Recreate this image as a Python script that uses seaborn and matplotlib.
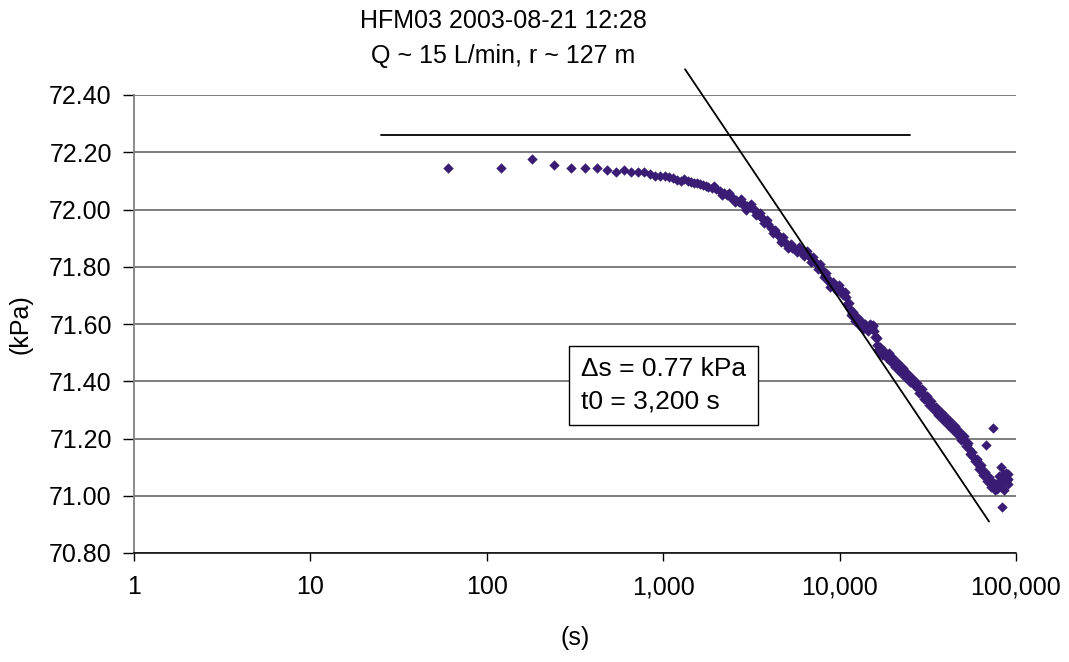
import numpy as np
import pandas as pd
import matplotlib
matplotlib.use("Agg")
import matplotlib.pyplot as plt
from matplotlib.ticker import FixedLocator, FuncFormatter, NullLocator
import seaborn as sns

# ---- data (time in s, pressure in kPa) ----
time_s = [
    60, 120, 180, 240, 300, 360, 420, 480, 540, 600, 660, 720, 780, 840, 900, 960,
    1020, 1080, 1140, 1200, 1260, 1320, 1380, 1440, 1500, 1560, 1620, 1680, 1740, 1800,
    1900, 2000, 2100, 2200, 2300, 2400, 2500, 2600, 2700, 2800, 2900, 3000, 3100, 3200,
    3300, 3400, 3500, 3600, 3700, 3800, 3950, 4100, 4250, 4400, 4550, 4700, 4850, 5000,
    5200, 5400, 5600, 5800, 6000, 6200, 6400, 6600, 6800, 7000, 7200, 7400, 7600, 7800,
    8000, 8250, 8500, 8750, 9000, 9250, 9500, 9750, 10000, 10300, 10600, 10900, 11200,
    11500, 11800, 12100, 12400, 12700, 13000, 13400, 13800, 14200, 14600, 15000, 15400,
    15700, 16000, 16400, 16800, 17200, 17700, 18200, 18700, 19200, 19800, 20400, 21000,
    21700, 22400, 23100, 23800, 24600, 25400, 26200, 27000, 27900, 28800, 29700, 30600,
    31600, 32600, 33600, 34700, 35800, 36900, 38000, 39200, 40400, 41600, 42900, 44200,
    45500, 46900, 48300, 49700, 51200, 52700, 54200, 55800, 57400, 59000, 60700, 62400,
    64100, 65900, 67700, 69600, 71500, 73500, 75500, 77500, 79500, 81500, 83500, 85500,
    87500, 89000,
    72000, 74000, 76000, 78000, 80000, 82000, 84000, 86000, 88000, 89500, 90000, 90500,
    67300, 74300, 81900, 83000,
]
pressure_kpa = [
    72.145, 72.145, 72.175, 72.154, 72.145, 72.145, 72.145, 72.138, 72.131, 72.138,
    72.131, 72.131, 72.131, 72.124, 72.117, 72.117, 72.116, 72.114, 72.109, 72.104,
    72.100, 72.105, 72.099, 72.095, 72.094, 72.092, 72.090, 72.087, 72.083, 72.080,
    72.074, 72.071, 72.066, 72.057, 72.049, 72.045, 72.039, 72.034, 72.027, 72.020,
    72.015, 72.011, 72.008, 72.006, 71.999, 71.989, 71.980, 71.975, 71.968, 71.961,
    71.948, 71.936, 71.924, 71.913, 71.906, 71.894, 71.889, 71.880, 71.871, 71.864,
    71.861, 71.859, 71.856, 71.850, 71.845, 71.840, 71.833, 71.826, 71.819, 71.808,
    71.801, 71.793, 71.784, 71.772, 71.759, 71.747, 71.737, 71.731, 71.728, 71.726,
    71.723, 71.717, 71.710, 71.696, 71.672, 71.651, 71.637, 71.626, 71.617, 71.612,
    71.605, 71.596, 71.593, 71.587, 71.586, 71.591, 71.596, 71.577, 71.556, 71.528,
    71.511, 71.502, 71.497, 71.493, 71.490, 71.483, 71.474, 71.465, 71.456, 71.448,
    71.439, 71.430, 71.423, 71.414, 71.406, 71.397, 71.388, 71.376, 71.365, 71.355,
    71.343, 71.334, 71.323, 71.313, 71.304, 71.295, 71.287, 71.278, 71.271, 71.262,
    71.255, 71.246, 71.238, 71.229, 71.220, 71.210, 71.201, 71.192, 71.178, 71.164,
    71.150, 71.136, 71.124, 71.111, 71.101, 71.089, 71.076, 71.068, 71.059, 71.052,
    71.047, 71.043, 71.041, 71.043, 71.047, 71.052, 71.057, 71.062, 71.055,
    71.030, 71.030, 71.020, 71.025, 71.070, 71.030, 71.075, 71.020, 71.080, 71.075,
    71.040, 71.060,
    71.178, 71.235, 71.099, 70.961,
]

# scatter of readings along the upper / lower edges of the dense band
band_time_s = [
    1950, 2150, 2350, 2550, 2750, 2950, 3150, 3350, 3550, 3750, 3900, 4175, 4325, 4625,
    4775, 5100, 5300, 5700, 5900, 6300, 6500, 6900, 7100, 7500, 7700, 8125, 8375, 8875,
    9125, 9625, 9875, 10450, 10750, 11050, 11350, 11650, 11950, 12250, 12550, 12850,
    13200, 13600, 14000, 14400, 14800, 15200, 15550, 15850, 16200, 16600, 17000, 17450,
    17950, 18450, 18950, 19500, 20100, 20700, 21350, 22050, 22750, 23450, 24200, 25000,
    25800, 26600, 27450, 28350, 29250, 30150, 31100, 32100, 33100, 34150, 35250, 36350,
    37450, 38600, 39800, 41000, 42250, 43550, 44850, 46200, 47600, 49000, 50450, 51950,
    53450, 55000, 56600, 58200, 59850, 61550, 63250, 65000, 66800, 68650, 70550,
]
band_kpa = [
    72.082, 72.050, 72.058, 72.025, 72.035, 72.000, 72.018, 71.982, 71.989, 71.952,
    71.963, 71.918, 71.930, 71.888, 71.903, 71.864, 71.879, 71.850, 71.869, 71.836,
    71.854, 71.818, 71.835, 71.793, 71.809, 71.765, 71.778, 71.730, 71.746, 71.716,
    71.736, 71.702, 71.713, 71.670, 71.672, 71.632, 71.641, 71.610, 71.625, 71.597,
    71.612, 71.583, 71.600, 71.576, 71.601, 71.585, 71.592, 71.555, 71.550, 71.510,
    71.518, 71.490, 71.505, 71.481, 71.497, 71.467, 71.481, 71.450, 71.464, 71.433,
    71.446, 71.416, 71.430, 71.399, 71.413, 71.382, 71.394, 71.359, 71.372, 71.338,
    71.350, 71.318, 71.330, 71.298, 71.311, 71.281, 71.294, 71.264, 71.278, 71.248,
    71.262, 71.232, 71.245, 71.214, 71.227, 71.195, 71.208, 71.174, 71.183, 71.146,
    71.154, 71.120, 71.128, 71.095, 71.106, 71.072, 71.082, 71.052, 71.065,
]

# straight-line fits drawn on the chart
flat_line_t = [25, 25000]
flat_line_kpa = [72.26, 72.26]
slope_line_t = [1330, 70300]
slope_line_kpa = [72.49, 70.91]

x_ticks = [1, 10, 100, 1000, 10000, 100000]
y_ticks = [70.80, 71.00, 71.20, 71.40, 71.60, 71.80, 72.00, 72.20, 72.40]

title_lines = ["HFM03 2003-08-21 12:28", "Q ~ 15 L/min, r ~ 127 m"]
box_text = "\u0394s = 0.77 kPa\nt0 = 3,200 s"

# ---- plotting ----
sns.set_theme(style="white")
plt.rcParams["font.family"] = ["Liberation Sans", "DejaVu Sans"]
plt.rcParams["text.color"] = "black"
plt.rcParams["axes.labelcolor"] = "black"
plt.rcParams["xtick.color"] = "black"
plt.rcParams["ytick.color"] = "black"

fig = plt.figure(figsize=(10.69, 6.62), dpi=100)
ax = fig.add_axes([134 / 1069, 1 - 553 / 662, (1016 - 134) / 1069, (553 - 95) / 662])

df = pd.DataFrame({"t": time_s + band_time_s, "p": pressure_kpa + band_kpa})
sns.scatterplot(data=df, x="t", y="p", marker="D", s=28, color="#3a1c74",
                linewidth=0, ax=ax, zorder=3)

ax.plot(flat_line_t, flat_line_kpa, color="black", lw=1.3, zorder=4)
ax.plot(slope_line_t, slope_line_kpa, color="black", lw=1.3, zorder=4, clip_on=False)

ax.set_xscale("log")
ax.set_xlim(1, 100000)
ax.set_ylim(70.80, 72.40)
ax.xaxis.set_major_locator(FixedLocator(x_ticks))
ax.xaxis.set_minor_locator(NullLocator())
ax.xaxis.set_major_formatter(FuncFormatter(lambda v, p: f"{v:,.0f}"))
ax.yaxis.set_major_locator(FixedLocator(y_ticks))
ax.yaxis.set_major_formatter(FuncFormatter(lambda v, p: f"{v:.2f}"))

for y in y_ticks:
    ax.axhline(y, color="#5a5a5a", lw=1.1, zorder=1)

for s in ["top", "right"]:
    ax.spines[s].set_visible(False)
ax.spines["left"].set_color("#808080")
ax.spines["left"].set_linewidth(1.3)
ax.spines["bottom"].set_color("black")
ax.spines["bottom"].set_linewidth(1.1)

ax.tick_params(axis="both", which="major", direction="out", length=6, width=1,
               color="black", labelsize=18, pad=10, left=True, bottom=True,
               labelcolor="black")
ax.tick_params(axis="y", length=8, pad=8)

ax.set_xlabel("(s)", fontsize=18, labelpad=19, color="black")
ax.set_ylabel("(kPa)", fontsize=18, labelpad=12, color="black")

fig.text(503 / 1069, 1 - 21 / 662, title_lines[0], ha="center", va="center",
         fontsize=18, color="black")
fig.text(503 / 1069, 1 - 56 / 662, title_lines[1], ha="center", va="center",
         fontsize=18, color="black")

ax.text(0.5067, 0.427, box_text, transform=ax.transAxes, ha="left", va="top",
        fontsize=19, linespacing=1.4, zorder=5, color="black",
        bbox=dict(boxstyle="square,pad=0.45", facecolor="white", edgecolor="black", lw=1))

fig.savefig("out.png", dpi=100)
